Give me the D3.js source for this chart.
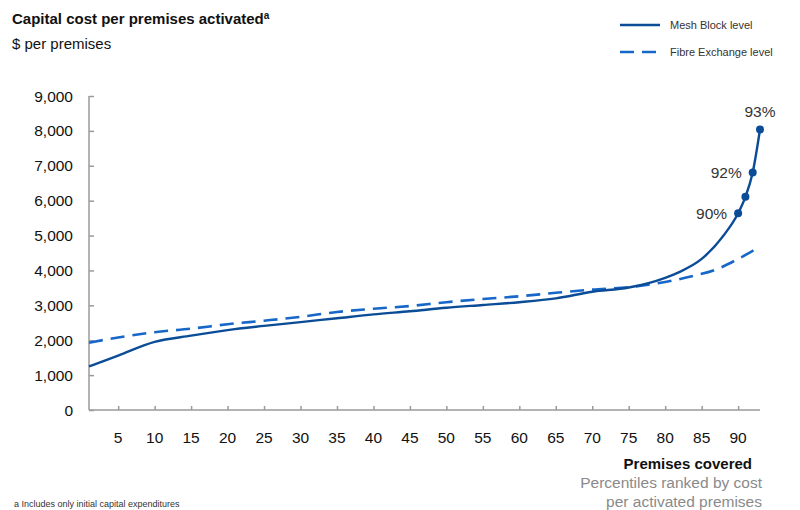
<!DOCTYPE html>
<html>
<head>
<meta charset="utf-8">
<script src="https://cdn.jsdelivr.net/npm/d3@7"></script>
<style>
  body { margin: 0; overflow: hidden; background: #fff; }
  text { font-family: "Liberation Sans", Arial, sans-serif; }
</style>
</head>
<body>
<svg id="chart" width="800" height="510"></svg>
<script>
// percentile positions and $ per premises
const meshPct = [1, 5, 10, 15, 20, 25, 30, 35, 40, 45, 50, 55, 60, 65, 70, 75, 80, 82, 85, 88, 90, 91, 92, 93];
const meshCost = [1250, 1560, 1950, 2130, 2290, 2410, 2520, 2630, 2740, 2830, 2930, 3010, 3090, 3200, 3390, 3510, 3790, 3960, 4330, 5000, 5640, 6110, 6810, 8040];
const fibrePct = [1, 5, 10, 15, 20, 25, 30, 35, 40, 45, 50, 55, 60, 65, 70, 75, 80, 84, 87, 90, 92, 93];
const fibreCost = [1930, 2080, 2230, 2330, 2460, 2560, 2670, 2810, 2900, 2980, 3090, 3180, 3260, 3360, 3450, 3520, 3670, 3850, 4030, 4330, 4560, 4680];
const markedPct = [90, 91, 92, 93];
const markedLabels = ['90%', '', '92%', '93%'];
const xTicks = [5, 10, 15, 20, 25, 30, 35, 40, 45, 50, 55, 60, 65, 70, 75, 80, 85, 90];
const yTicks = [0, 1000, 2000, 3000, 4000, 5000, 6000, 7000, 8000, 9000];

const meshColor = '#0b4c97';
const fibreColor = '#1767c9';

const svg = d3.select('#chart');
const x = d3.scaleLinear().domain([1, 93]).range([89, 760]);
const y = d3.scaleLinear().domain([0, 9000]).range([410, 96]);

// axes
const yAxis = svg.append('g').attr('transform', 'translate(89,0)')
  .call(d3.axisRight(y).tickValues(yTicks).tickSize(5).tickFormat(''));
yAxis.select('.domain').attr('d', `M0,${y(9000)}V${y(0)}`);
yAxis.selectAll('line, path').attr('stroke', '#9a9a9a').attr('stroke-width', 1.5);

svg.selectAll('text.ylab').data(yTicks).join('text').classed('ylab', true)
  .attr('x', 73).attr('y', (d) => y(d) + 5.5)
  .attr('text-anchor', 'end').attr('font-size', 15.5).attr('fill', '#111')
  .text((d) => d3.format(',')(d));

const xAxis = svg.append('g').attr('transform', 'translate(0,410)')
  .call(d3.axisTop(x).tickValues(xTicks).tickSize(4).tickFormat(''));
xAxis.select('.domain').attr('d', `M89,0H760`);
xAxis.selectAll('line, path').attr('stroke', '#9a9a9a').attr('stroke-width', 1.5);

svg.selectAll('text.xlab').data(xTicks).join('text').classed('xlab', true)
  .attr('x', (d) => x(d)).attr('y', 443)
  .attr('text-anchor', 'middle').attr('font-size', 15.5).attr('fill', '#111')
  .text((d) => d);

// lines
const line = d3.line().x((d) => x(d[0])).y((d) => y(d[1])).curve(d3.curveMonotoneX);
const meshData = meshPct.map((p, i) => [p, meshCost[i]]);
const fibreData = fibrePct.map((p, i) => [p, fibreCost[i]]);

svg.append('path').datum(fibreData).attr('d', line)
  .attr('fill', 'none').attr('stroke', fibreColor).attr('stroke-width', 2.6)
  .attr('stroke-dasharray', '14,8');
svg.append('path').datum(meshData).attr('d', line)
  .attr('fill', 'none').attr('stroke', meshColor).attr('stroke-width', 2.4);

const marked = meshData.filter((d) => markedPct.indexOf(d[0]) > -1);
svg.selectAll('circle.pt').data(marked).join('circle').classed('pt', true)
  .attr('cx', (d) => x(d[0])).attr('cy', (d) => y(d[1])).attr('r', 4)
  .attr('fill', meshColor);

svg.selectAll('text.ptlab').data(marked).join('text').classed('ptlab', true)
  .attr('x', (d, i) => (i === 3 ? x(d[0]) : x(d[0]) - 11))
  .attr('y', (d, i) => (i === 3 ? y(d[1]) - 12 : y(d[1]) + 6))
  .attr('text-anchor', (d, i) => (i === 3 ? 'middle' : 'end'))
  .attr('font-size', 15.5).attr('fill', '#333')
  .text((d, i) => markedLabels[i]);

// titles
const title = svg.append('text').attr('x', 12).attr('y', 24).attr('font-size', 15).attr('font-weight', 'bold').attr('fill', '#111');
title.append('tspan').text('Capital cost per premises activated');
title.append('tspan').attr('dy', -5).attr('font-size', 10).text('a');
svg.append('text').attr('x', 12).attr('y', 49).attr('font-size', 15).attr('fill', '#111').text('$ per premises');

// legend
const legend = [
  { label: 'Mesh Block level', color: meshColor, dash: null, y: 25 },
  { label: 'Fibre Exchange level', color: fibreColor, dash: '14,8', y: 52 },
];
const lg = svg.selectAll('g.leg').data(legend).join('g').classed('leg', true);
lg.append('line').attr('x1', 620).attr('x2', 660).attr('y1', (d) => d.y).attr('y2', (d) => d.y)
  .attr('stroke', (d) => d.color).attr('stroke-width', 2.6)
  .attr('stroke-dasharray', (d) => d.dash);
lg.append('text').attr('x', 670).attr('y', (d) => d.y + 4).attr('font-size', 11).attr('fill', '#333')
  .text((d) => d.label);

// x axis title
svg.append('text').attr('x', 752).attr('y', 469).attr('text-anchor', 'end')
  .attr('font-size', 15).attr('font-weight', 'bold').attr('fill', '#111').text('Premises covered');
svg.append('text').attr('x', 762).attr('y', 488).attr('text-anchor', 'end')
  .attr('font-size', 15.5).attr('fill', '#8a8a8a').text('Percentiles ranked by cost');
svg.append('text').attr('x', 762).attr('y', 507).attr('text-anchor', 'end')
  .attr('font-size', 15.5).attr('fill', '#8a8a8a').text('per activated premises');

// footnote
svg.append('text').attr('x', 14).attr('y', 507).attr('font-size', 9).attr('fill', '#333')
  .text('a   Includes only initial capital expenditures');
</script>
</body>
</html>
